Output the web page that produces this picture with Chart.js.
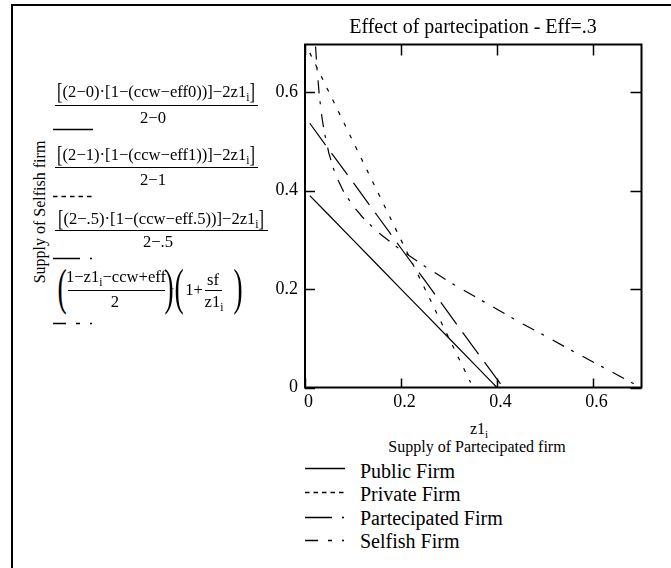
<!DOCTYPE html>
<html>
<head>
<meta charset="utf-8">
<script src="https://cdn.jsdelivr.net/npm/chart.js@4.4.1/dist/chart.umd.min.js"></script>
<style>
  html,body{margin:0;padding:0;background:#fff;}
  #page{position:relative;width:671px;height:568px;overflow:hidden;font-family:"Liberation Serif","Times New Roman",serif;color:#000;}
  #frame{position:absolute;left:11px;top:4px;width:680px;height:600px;border-top:2px solid #000;border-left:2px solid #000;}
  .t{position:absolute;white-space:nowrap;line-height:1;transform:translate(-50%,-50%);font-size:16px;}
  .f{font-size:16.6px;}
  .bar{position:absolute;height:1px;background:#000;}
  sub{font-size:0.7em;vertical-align:-0.35em;line-height:0;}
  .bk{display:inline-block;transform:scaleY(1.4);}
  .paren{font-size:50px;transform:translate(-50%,-50%) scaleX(0.55);}
  .lg{position:absolute;left:360px;font-size:20px;line-height:1;white-space:nowrap;transform:translateY(-50%);}
  #wrap{position:absolute;left:250px;top:0;width:421px;height:420px;}
  #marks{position:absolute;left:0;top:0;}
</style>
</head>
<body>
<div id="page">
  <div id="frame"></div>
  <div id="wrap"><canvas id="chart" width="421" height="420"></canvas></div>

  <div class="t" style="left:473px;top:26px;font-size:20px;">Effect of partecipation - Eff=.3</div>
  <div class="t" style="left:40px;top:212px;transform:translate(-50%,-50%) rotate(-90deg);">Supply of Selfish firm</div>
  <div class="t" style="left:479px;top:429px;">z1<sub>i</sub></div>
  <div class="t" style="left:477px;top:447px;">Supply of Partecipated firm</div>

  <!-- expressions on the left, as in the worksheet -->
  <div class="t f" style="left:156px;top:92px;"><span class="bk">[</span>(2−0)·[1−(ccw−eff0))]−2z1<sub>i</sub><span class="bk">]</span></div>
  <div class="bar" style="left:55px;top:105px;width:203px;"></div>
  <div class="t f" style="left:153px;top:118px;">2−0</div>

  <div class="t f" style="left:156px;top:155px;"><span class="bk">[</span>(2−1)·[1−(ccw−eff1))]−2z1<sub>i</sub><span class="bk">]</span></div>
  <div class="bar" style="left:55px;top:167px;width:203px;"></div>
  <div class="t f" style="left:153px;top:180px;">2−1</div>

  <div class="t f" style="left:161px;top:219px;"><span class="bk">[</span>(2−.5)·[1−(ccw−eff.5))]−2z1<sub>i</sub><span class="bk">]</span></div>
  <div class="bar" style="left:55px;top:230px;width:213px;"></div>
  <div class="t f" style="left:158px;top:242px;">2−.5</div>

  <div class="t paren" style="left:62px;top:287px;">(</div>
  <div class="t f" style="left:116px;top:277px;">1−z1<sub>i</sub>−ccw+eff</div>
  <div class="bar" style="left:68px;top:290px;width:97px;"></div>
  <div class="t f" style="left:115px;top:302px;">2</div>
  <div class="t paren" style="left:169px;top:287px;">)</div>
  <div class="t" style="left:173px;top:289px;font-size:10px;">·</div>
  <div class="t paren" style="left:179px;top:287px;">(</div>
  <div class="t f" style="left:194px;top:290px;">1+</div>
  <div class="t f" style="left:213px;top:280px;">sf</div>
  <div class="bar" style="left:205px;top:290px;width:17px;"></div>
  <div class="t f" style="left:214px;top:302px;">z1<sub>i</sub></div>
  <div class="t paren" style="left:238px;top:287px;">)</div>

  <div class="lg" style="top:471px;">Public Firm</div>
  <div class="lg" style="top:494px;">Private Firm</div>
  <div class="lg" style="top:518px;">Partecipated Firm</div>
  <div class="lg" style="top:541px;">Selfish Firm</div>

  <svg id="marks" width="671" height="568"></svg>
</div>
<script>
'use strict';

// axis ticks
const xTicks = [0, 0.2, 0.4, 0.6];
const yTicks = [0, 0.2, 0.4, 0.6];
const xMax = 0.701, yMax = 0.697;

// series
const seriesNames = ['Public Firm', 'Private Firm', 'Partecipated Firm', 'Selfish Firm'];

const publicX = [0.01, 0.05, 0.1, 0.15, 0.2, 0.25, 0.3, 0.35, 0.39, 0.4];
const publicY = [0.39, 0.35, 0.3, 0.25, 0.2, 0.15, 0.1, 0.05, 0.01, 0];

const privateX = [0.01, 0.05, 0.1, 0.15, 0.2, 0.25, 0.3, 0.345];
const privateY = [0.68, 0.6, 0.5, 0.4, 0.3, 0.2, 0.1, 0.01];

const partX = [0.01, 0.05, 0.1, 0.15, 0.2, 0.25, 0.3, 0.35, 0.4, 0.412];
const partY = [0.537, 0.483, 0.417, 0.35, 0.283, 0.217, 0.15, 0.083, 0.017, 0.001];

const selfX = [0.022, 0.025, 0.03, 0.035, 0.04, 0.05, 0.06, 0.07, 0.08, 0.1, 0.12, 0.15,
  0.2, 0.25, 0.3, 0.35, 0.4, 0.45, 0.5, 0.55, 0.6, 0.65, 0.69];
const selfY = [0.693, 0.648, 0.592, 0.551, 0.52, 0.475, 0.443, 0.419, 0.399, 0.369, 0.346, 0.317,
  0.279, 0.246, 0.215, 0.187, 0.159, 0.131, 0.105, 0.078, 0.052, 0.026, 0.005];

// line styles (plot) and legend sample styles
const plotDash = [[], [4, 9], [27, 10], [13, 8, 3, 10]];
const keyDash = [[], [4.5, 4], [27, 10, 2, 10], [13, 10, 4, 10, 2, 10]];

const seriesX = [publicX, privateX, partX, selfX];
const seriesY = [publicY, privateY, partY, selfY];

// inner tick marks + box round the plot, Mathcad style
const plotFrame = {
  id: 'plotFrame',
  afterDraw(chart) {
    const {ctx, chartArea: a, scales} = chart;
    ctx.save();
    ctx.strokeStyle = '#000';
    ctx.lineWidth = 1.5;
    ctx.beginPath();
    xTicks.forEach(v => {
      const px = Math.round(scales.x.getPixelForValue(v)) + 0.5;
      ctx.moveTo(px, a.bottom); ctx.lineTo(px, a.bottom - 9);
      ctx.moveTo(px, a.top); ctx.lineTo(px, a.top + 11);
    });
    yTicks.forEach(v => {
      const py = Math.round(scales.y.getPixelForValue(v)) + 0.5;
      ctx.moveTo(a.left, py); ctx.lineTo(a.left + 10, py);
      ctx.moveTo(a.right, py); ctx.lineTo(a.right - 11, py);
    });
    ctx.stroke();
    ctx.lineWidth = 2;
    ctx.strokeRect(a.left, a.top, a.right - a.left, a.bottom - a.top);
    ctx.restore();
  }
};

const tickFont = {family: 'Liberation Serif', size: 18};

new Chart(document.getElementById('chart'), {
  type: 'scatter',
  data: {
    datasets: seriesNames.map((name, k) => ({
      label: name,
      data: seriesX[k].map((x, i) => ({x: x, y: seriesY[k][i]})),
      showLine: true,
      borderColor: '#000',
      borderWidth: 1.2,
      borderDash: plotDash[k],
      pointRadius: 0,
      fill: false,
      tension: 0
    }))
  },
  options: {
    responsive: false,
    animation: false,
    layout: {padding: {left: 0, top: 44.5, right: 29.5, bottom: 0}},
    plugins: {legend: {display: false}, tooltip: {enabled: false}},
    scales: {
      x: {
        type: 'linear', min: 0, max: xMax,
        afterFit: s => { s.height = 32.5; },
        afterBuildTicks: s => { s.ticks = xTicks.map(v => ({value: v})); },
        grid: {display: false, drawTicks: false},
        border: {display: false},
        ticks: {color: '#000', font: tickFont, padding: 4, labelOffset: 3.5, maxRotation: 0, autoSkip: false, callback: v => String(v)}
      },
      y: {
        type: 'linear', min: 0, max: yMax,
        afterFit: s => { s.width = 55; },
        afterBuildTicks: s => { s.ticks = yTicks.map(v => ({value: v})); },
        grid: {display: false, drawTicks: false},
        border: {display: false},
        ticks: {color: '#000', font: tickFont, padding: 7, autoSkip: false, callback: v => String(v)}
      }
    }
  },
  plugins: [plotFrame]
});

// line samples: under each expression, and beside the legend names
const svg = document.getElementById('marks');
function sample(x1, x2, y, dash) {
  const l = document.createElementNS('http://www.w3.org/2000/svg', 'line');
  l.setAttribute('x1', x1); l.setAttribute('x2', x2);
  l.setAttribute('y1', y); l.setAttribute('y2', y);
  l.setAttribute('stroke', '#000');
  l.setAttribute('stroke-width', '1.3');
  if (dash.length) l.setAttribute('stroke-dasharray', dash.join(','));
  svg.appendChild(l);
}
[129, 196, 258, 323].forEach((y, k) => sample(53, 93, y + 0.5, keyDash[k]));
[468, 492, 517, 540].forEach((y, k) => sample(305, 345, y + 0.5, keyDash[k]));
</script>
</body>
</html>
